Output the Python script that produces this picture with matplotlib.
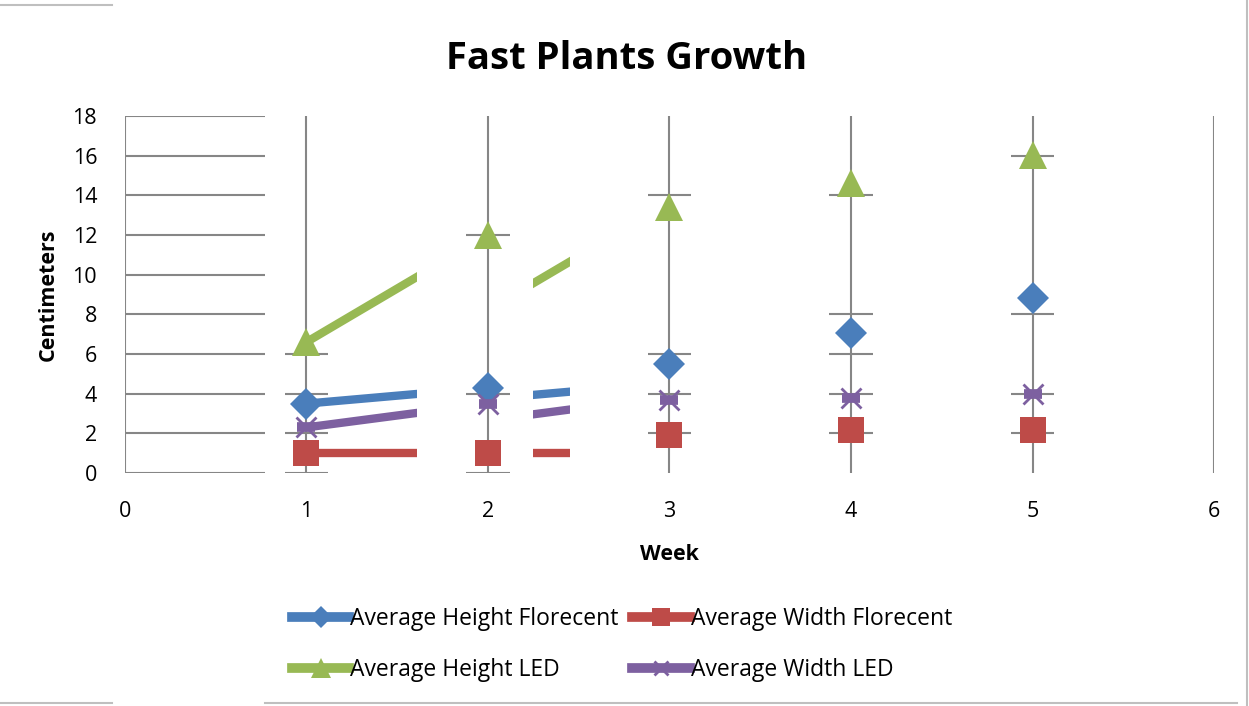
import matplotlib.pyplot as plt
import matplotlib.transforms as mtransforms
from matplotlib.patches import Rectangle
from matplotlib.lines import Line2D

plt.rcParams["font.family"] = ["Open Sans", "DejaVu Sans"]

weeks = [1, 2, 3, 4, 5]
height_flor = [3.5, 4.3, 5.5, 7.05, 8.8]
width_flor = [1.0, 1.0, 1.9, 2.15, 2.15]
height_led = [6.6, 12.0, 13.4, 14.6, 16.05]
width_led = [2.3, 3.5, 3.7, 3.8, 4.0]

series = [
    ("Average Height Florecent", height_flor, "#4A7EBB", "D", 16),
    ("Average Width Florecent", width_flor, "#BE4B48", "s", 19),
    ("Average Height LED", height_led, "#98B954", "^", 20),
    ("Average Width LED", width_led, "#7D60A0", "x", 15),
]

# leftover gridline stubs drawn around each week's markers
grid_stubs = {1: [0, 2, 4, 6], 2: [0, 4, 12], 3: [2, 4, 6, 14],
              4: [2, 4, 6, 8, 14], 5: [2, 4, 8, 16]}

grid_col = "#868686"

fig = plt.figure(figsize=(12.49, 7.06), dpi=100)
ax = fig.add_axes([0.1, 0.33, 0.872, 0.5057])
ax.set_xlim(0, 6)
ax.set_ylim(0, 18)
for s in ax.spines.values():
    s.set_visible(False)

yt = range(0, 19, 2)
ax.hlines(yt, 0, 0.77, color=grid_col, lw=1.5, zorder=1)
ax.vlines([0, 1, 2, 3, 4, 5, 6], 0, 18, color=grid_col, lw=1.5, zorder=1)
for wk, levels in grid_stubs.items():
    ax.hlines(levels, wk - 0.12, wk + 0.12, color=grid_col, lw=1.5, zorder=1)

shift = mtransforms.Affine2D().translate(0.7, 0)
for name, vals, col, mk, ms in series:
    l1, = ax.plot(weeks[:2], vals[:2], color=col, lw=6, solid_capstyle="butt", zorder=2)
    l1.set_clip_path(Rectangle((1, -1), 0.61, 20, transform=ax.transData))
    l2, = ax.plot(weeks[:2], vals[:2], color=col, lw=6, solid_capstyle="butt", zorder=2,
                  transform=shift + ax.transData)
    l2.set_clip_path(Rectangle((2.25, -1), 0.2, 20, transform=ax.transData))
    if mk == "x":
        ax.plot(weeks, vals, ls="none", marker="x", color=col, ms=ms, mew=2, zorder=3)
        ax.plot(weeks, vals, ls="none", marker="_", color=col, ms=ms * 0.85, mew=7, zorder=3)
    else:
        ax.plot(weeks, vals, ls="none", marker=mk, color=col, ms=ms, mew=0, zorder=3)

ax.set_xticks(range(7))
ax.set_yticks(yt)
ax.tick_params(length=0, labelsize=15.5)
ax.tick_params(axis="x", pad=20)
ax.tick_params(axis="y", pad=20)
ax.set_xlabel("Week", fontsize=15.5, fontweight="bold", labelpad=16)
ax.set_ylabel("Centimeters", fontsize=15.5, fontweight="bold", labelpad=10)
fig.suptitle("Fast Plants Growth", x=0.502, y=0.944, fontsize=27.5, fontweight="bold")

order = [0, 2, 1, 3]  # legend fills columns first; reference reads row-wise
handles = []
for _, _, col, mk, ms in series:
    if mk == "x":
        handles.append(Line2D([], [], color=col, lw=7, marker="x", ms=ms * 0.7, mew=2))
    else:
        handles.append(Line2D([], [], color=col, lw=7, marker=mk, ms=ms * 0.7, mew=0))
fig.legend([handles[i] for i in order], [series[i][0] for i in order], ncol=2,
           loc="center", bbox_to_anchor=(0.498, 0.087), frameon=False, fontsize=16.5,
           handlelength=2.5, handletextpad=0.05, columnspacing=0.6,
           labelspacing=1.2)

# chart border remnants
for xs, ys in [((0, 0.09), (0.993, 0.993)), ((0, 0.09), (0.004, 0.004)),
               ((0.212, 0.99), (0.004, 0.004)), ((0.998, 0.998), (0.0, 1.0))]:
    fig.add_artist(Line2D(xs, ys, color="#BFBFBF", lw=1.5))

fig.savefig("out.png", dpi=100)
